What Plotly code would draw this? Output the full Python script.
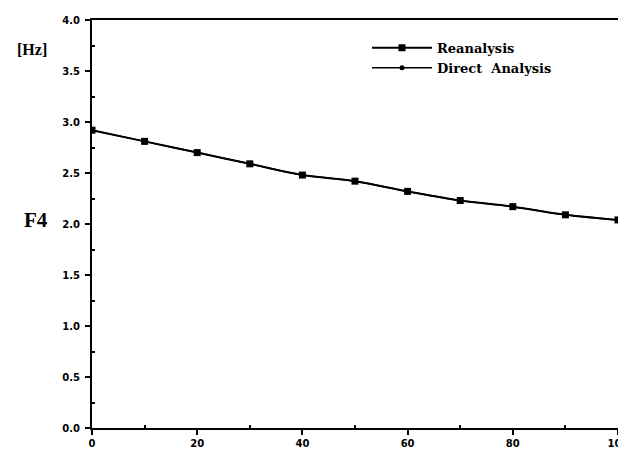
import plotly.graph_objects as go

x_vals = [0, 10, 20, 30, 40, 50, 60, 70, 80, 90, 100]
reanalysis = [2.92, 2.81, 2.70, 2.59, 2.48, 2.42, 2.32, 2.23, 2.17, 2.09, 2.04]
direct = [2.92, 2.81, 2.70, 2.59, 2.48, 2.42, 2.32, 2.23, 2.17, 2.09, 2.04]
y_ticks = [0.0, 0.5, 1.0, 1.5, 2.0, 2.5, 3.0, 3.5, 4.0]
x_ticks = [0, 20, 40, 60, 80, 100]

fig = go.Figure()
fig.add_trace(go.Scatter(x=x_vals, y=reanalysis, mode="lines+markers", name="Reanalysis",
                         line=dict(color="black", width=2, shape="spline"),
                         marker=dict(symbol="square", size=7, color="black")))
fig.add_trace(go.Scatter(x=x_vals, y=direct, mode="lines+markers", name="Direct  Analysis",
                         line=dict(color="black", width=1.5, shape="spline"),
                         marker=dict(symbol="circle", size=5, color="black")))

# page body adds an 8px offset; plot area on screen spans x 92..618, y 14..428
L, T, R, B = 84, 6, 16, 36
pw, ph = 526, 414

fig.update_layout(
    width=626, height=456,
    margin=dict(l=L, r=R, t=T, b=B),
    paper_bgcolor="white", plot_bgcolor="white",
    font=dict(family="Liberation Sans", color="black"),
    legend=dict(x=(367 - 92) / pw, y=(428 - 27) / ph, xanchor="left", yanchor="top",
                font=dict(family="DejaVu Serif", size=13, color="black", weight="bold"),
                bgcolor="rgba(0,0,0,0)", tracegroupgap=0, itemwidth=60),
    showlegend=True,
    annotations=[
        dict(text="[Hz]", x=(32 - 92) / pw, y=(428 - 44) / ph, xref="paper", yref="paper",
             xanchor="center", yanchor="middle", showarrow=False,
             font=dict(family="Liberation Serif", size=16, weight="bold")),
        dict(text="F4", x=(36 - 92) / pw, y=(428 - 217) / ph, xref="paper", yref="paper",
             xanchor="center", yanchor="middle", showarrow=False,
             font=dict(family="Liberation Serif", size=21, weight="bold")),
    ],
)

fig.update_xaxes(range=[0, 100], tickvals=x_ticks, ticktext=[str(v) for v in x_ticks],
                 showgrid=False, zeroline=False, showline=True, linecolor="black", linewidth=2,
                 mirror=True, ticks="outside", ticklen=5, tickwidth=1.5, tickcolor="black",
                 minor=dict(tickvals=[10, 30, 50, 70, 90], ticks="inside", ticklen=3, tickcolor="black"),
                 tickfont=dict(size=10, family="DejaVu Sans", weight="bold"))
fig.update_yaxes(range=[0, 4.0], tickvals=y_ticks, ticktext=[f"{v:.1f}" for v in y_ticks],
                 showgrid=False, zeroline=False, showline=True, linecolor="black", linewidth=2,
                 mirror=True, ticks="outside", ticklen=5, tickwidth=1.5, tickcolor="black",
                 ticklabelstandoff=3,
                 minor=dict(tickvals=[0.25, 0.75, 1.25, 1.75, 2.25, 2.75, 3.25, 3.75], ticks="inside",
                            ticklen=3, tickcolor="black"),
                 tickfont=dict(size=10, family="DejaVu Sans", weight="bold"))

fig.write_html("out.html")
